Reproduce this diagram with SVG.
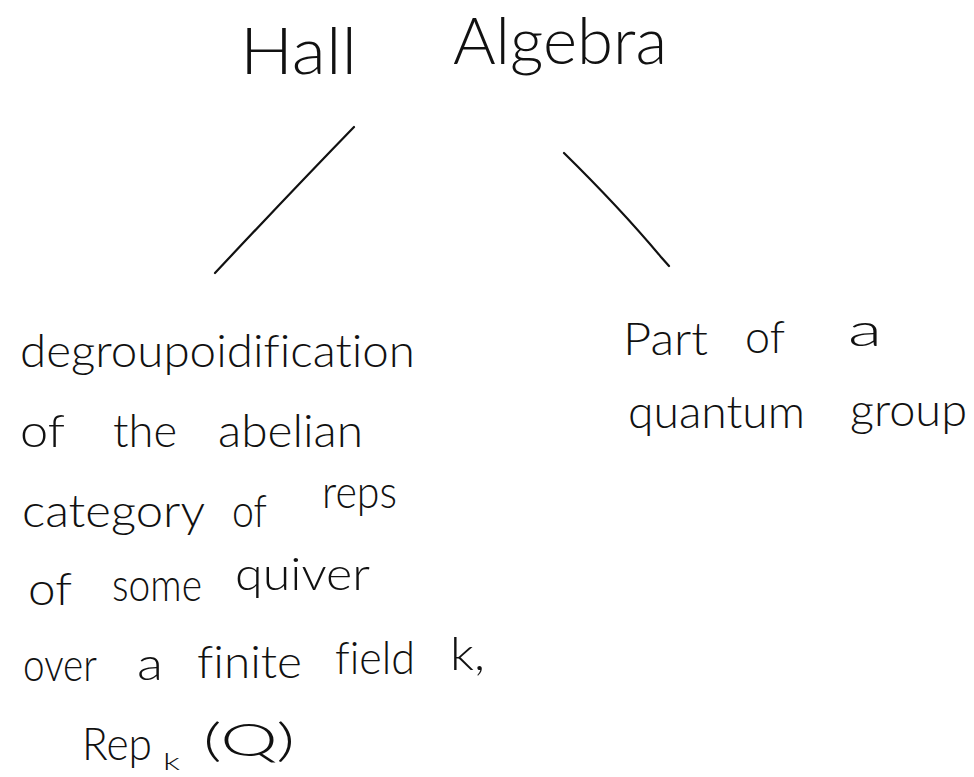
<svg xmlns="http://www.w3.org/2000/svg" width="974" height="777" viewBox="0 0 974 777">
<style>
  .t { font-family: "Lato", "Open Sans", "Liberation Sans", sans-serif; font-weight: 300; fill: #111; font-variant-ligatures: none; }
  .big { font-size: 66px; }
  .mid { font-size: 46px; }
  .sub { font-size: 24px; }
  .edge { fill: none; stroke: #111; stroke-width: 2.2; stroke-linecap: round; }
</style>
<rect width="974" height="777" fill="#fff"/>
<g id="connectors">
  <path class="edge" d="M354,127 Q290,193 215,273"/>
  <path class="edge" d="M564,153 Q620,208 661,257 L669,266"/>
</g>
<g id="hall-algebra">
  <text class="t big" x="240" y="74" textLength="117" lengthAdjust="spacingAndGlyphs">Hall</text>
  <text class="t big" x="453" y="64" textLength="214" lengthAdjust="spacingAndGlyphs">Algebra</text>
</g>
<g id="degroupoidification">
  <text class="t mid" x="20" y="367" textLength="395" lengthAdjust="spacingAndGlyphs">degroupoidification</text>
  <text class="t mid" x="20" y="447" textLength="45" lengthAdjust="spacingAndGlyphs">of</text>
  <text class="t mid" x="113" y="447" textLength="64" lengthAdjust="spacingAndGlyphs">the</text>
  <text class="t mid" x="218" y="447" textLength="145" lengthAdjust="spacingAndGlyphs">abelian</text>
  <text class="t mid" x="22" y="527" textLength="183" lengthAdjust="spacingAndGlyphs">category</text>
  <text class="t mid" x="232" y="527" textLength="35" lengthAdjust="spacingAndGlyphs">of</text>
  <text class="t mid" x="322" y="508" textLength="75" lengthAdjust="spacingAndGlyphs">reps</text>
  <text class="t mid" x="28" y="605" textLength="44" lengthAdjust="spacingAndGlyphs">of</text>
  <text class="t mid" x="112" y="601" textLength="90" lengthAdjust="spacingAndGlyphs">some</text>
  <text class="t mid" x="235" y="590" textLength="135" lengthAdjust="spacingAndGlyphs">quiver</text>
  <text class="t mid" x="23" y="681" textLength="74" lengthAdjust="spacingAndGlyphs">over</text>
  <text class="t mid" x="137" y="680" textLength="26" lengthAdjust="spacingAndGlyphs">a</text>
  <text class="t mid" x="197" y="678" textLength="105" lengthAdjust="spacingAndGlyphs">finite</text>
  <text class="t mid" x="335" y="674" textLength="80" lengthAdjust="spacingAndGlyphs">field</text>
  <text class="t mid" x="450" y="670" textLength="35" lengthAdjust="spacingAndGlyphs">k,</text>
  <text class="t mid" x="82" y="760" textLength="70" lengthAdjust="spacingAndGlyphs">Rep</text>
  <text class="t sub" x="163" y="770" textLength="17" lengthAdjust="spacingAndGlyphs">k</text>
  <text class="t mid" x="203" y="756" textLength="92" lengthAdjust="spacingAndGlyphs">(Q)</text>
</g>
<g id="quantum-group">
  <text class="t mid" x="623" y="355" textLength="85" lengthAdjust="spacingAndGlyphs">Part</text>
  <text class="t mid" x="745" y="353" textLength="40" lengthAdjust="spacingAndGlyphs">of</text>
  <text class="t mid" x="848" y="346" textLength="34" lengthAdjust="spacingAndGlyphs">a</text>
  <text class="t mid" x="628" y="428" textLength="177" lengthAdjust="spacingAndGlyphs">quantum</text>
  <text class="t mid" x="850" y="426" textLength="117" lengthAdjust="spacingAndGlyphs">group</text>
</g>
</svg>
